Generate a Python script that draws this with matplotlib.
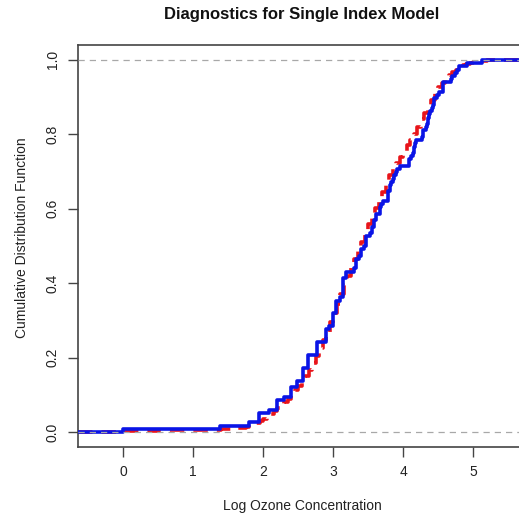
import numpy as np
import matplotlib
matplotlib.use("Agg")
import matplotlib.pyplot as plt

plt.rcParams['font.family'] = ['Liberation Sans', 'DejaVu Sans']

# ozone readings (NA removed), plotted on log scale
ozone = [41, 36, 12, 18, 28, 23, 19, 8, 7, 16, 11, 14, 18, 14, 34, 6, 30, 11, 1, 11,
         4, 32, 23, 45, 115, 37, 29, 71, 39, 23, 21, 37, 20, 12, 13, 135, 49, 32, 64, 40,
         77, 97, 97, 85, 10, 27, 7, 48, 35, 61, 79, 63, 16, 80, 108, 20, 52, 82, 50, 64,
         59, 39, 9, 16, 78, 35, 66, 122, 89, 110, 44, 28, 65, 22, 59, 23, 31, 44, 21, 9,
         45, 168, 73, 76, 118, 84, 85, 96, 78, 73, 91, 47, 32, 20, 23, 21, 24, 44, 21, 28,
         9, 13, 46, 18, 13, 24, 16, 13, 23, 36, 7, 14, 30, 14, 18, 20]

# model-based CDF (red dashed)
model_x = [0.00, 0.50, 1.40, 1.60, 1.75, 1.80, 1.85, 1.90, 1.95, 2.00, 2.05, 2.10,
           2.15, 2.20, 2.25, 2.30, 2.35, 2.40, 2.45, 2.50, 2.55, 2.60, 2.65, 2.70,
           2.75, 2.80, 2.85, 2.90, 2.95, 3.00, 3.05, 3.10, 3.15, 3.20, 3.25, 3.30,
           3.35, 3.40, 3.45, 3.50, 3.55, 3.60, 3.65, 3.70, 3.75, 3.80, 3.85, 3.90,
           3.95, 4.00, 4.05, 4.10, 4.15, 4.20, 4.25, 4.30, 4.35, 4.40, 4.45, 4.50,
           4.55, 4.60, 4.65, 4.70, 4.75, 4.80, 4.85, 4.90, 4.95, 5.00, 5.10, 5.20]
model_F = [0.004, 0.006, 0.008, 0.012, 0.015, 0.018, 0.020, 0.024, 0.029, 0.035, 0.041, 0.048,
           0.056, 0.065, 0.072, 0.081, 0.090, 0.101, 0.112, 0.125, 0.137, 0.151, 0.167, 0.185,
           0.204, 0.225, 0.247, 0.270, 0.295, 0.320, 0.345, 0.370, 0.395, 0.420, 0.443, 0.466,
           0.489, 0.512, 0.537, 0.560, 0.581, 0.602, 0.624, 0.646, 0.668, 0.690, 0.706, 0.722,
           0.738, 0.755, 0.772, 0.786, 0.802, 0.820, 0.840, 0.858, 0.876, 0.893, 0.910, 0.926,
           0.939, 0.951, 0.959, 0.967, 0.974, 0.980, 0.985, 0.989, 0.992, 0.995, 0.998, 1.0]

logoz = np.sort(np.log(ozone))
n = len(logoz)
ecdf_y = np.arange(1, n + 1) / n

xmin, xmax = -0.648, 5.77

fig = plt.figure(figsize=(5.19, 5.16), dpi=100)
ax = fig.add_axes([78 / 519, (516 - 447) / 516, (527 - 78) / 519, (447 - 45) / 516])

# red dashed step curve
rx = np.concatenate([[xmin], model_x, [xmax]])
ry = np.concatenate([[0.0], model_F, [1.0]])
ax.plot(rx, ry, drawstyle='steps-post', color='#e8141a', lw=2.6,
        dashes=(4, 2.5), zorder=2)

# blue empirical CDF
bx = np.concatenate([[xmin], logoz, [xmax]])
by = np.concatenate([[0.0], ecdf_y, [1.0]])
ax.plot(bx, by, drawstyle='steps-post', color='#0a14e6', lw=2.6, zorder=3)

# reference lines at 0 and 1
for h in (0, 1):
    ax.axhline(h, color='#a8a8a8', lw=0.9, dashes=(5, 4), zorder=4)

ax.set_xlim(xmin, xmax)
ax.set_ylim(-0.04, 1.04)
ax.set_xticks([0, 1, 2, 3, 4, 5])
ax.set_yticks([0.0, 0.2, 0.4, 0.6, 0.8, 1.0])
ax.set_yticklabels(['0.0', '0.2', '0.4', '0.6', '0.8', '1.0'], rotation=90, va='center')
ax.tick_params(direction='out', length=7, width=1, color='#444444',
               labelsize=10, labelcolor='#222222', pad=6)
for s in ax.spines.values():
    s.set_color('#444444')
    s.set_linewidth(1.2)

ax.set_xlabel('Log Ozone Concentration', fontsize=10, color='#222222')
ax.xaxis.set_label_coords(0.5, -0.13)
ax.set_ylabel('Cumulative Distribution Function', fontsize=10, color='#222222')
ax.yaxis.set_label_coords(-0.11, 0.52)
fig.text(302 / 519, 1 - 15 / 516, 'Diagnostics for Single Index Model',
         ha='center', va='center', fontsize=12, fontweight='bold', color='#111111')

fig.savefig('out.png', dpi=100)
